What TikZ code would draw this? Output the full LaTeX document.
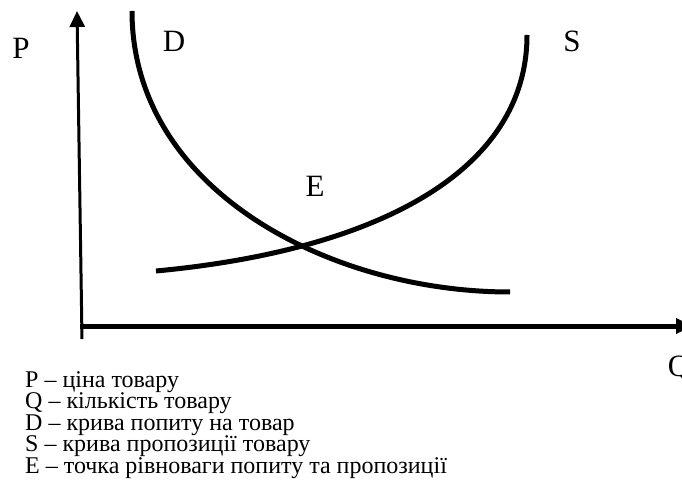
\documentclass[tikz,border=0pt]{standalone}
\usepackage{fontspec}
\setmainfont{Liberation Serif}
\usetikzlibrary{arrows.meta}
\begin{document}
\begin{tikzpicture}[x=1pt,y=-1pt,line join=round,>={Triangle[length=16pt,width=15pt]},
  axlabel/.style={font=\fontsize{31}{36}\selectfont,inner sep=0pt,anchor=base},
  legend/.style={font=\fontsize{24}{21.5}\selectfont,inner sep=0pt,align=left,anchor=base west}]
  \useasboundingbox (0,0) rectangle (682,502);
  % axes
  \draw[line width=3pt,->] (82,339) -- (77,11);
  \draw[line width=5pt,->] (80,326) -- (692,326);
  % demand and supply
  \draw[line width=5pt] (132,11) .. controls (132,190) and (330,292) .. (510,292);
  \draw[line width=5pt] (156,271) .. controls (380,250) and (527,170) .. (527,35);
  \node[axlabel] (p) at (21,59) {P};
  \node[axlabel] (d) at (174,52) {D};
  \node[axlabel] (s) at (572,52) {S};
  \node[axlabel] (e) at (315,197) {E};
  \node[axlabel] (q) at (679,376) {Q};
  % legend (base = last line)
  \node[legend] (key) at (25,473) {P – ціна товару\\
    Q – кількість товару\\
    D – крива попиту на товар\\
    S – крива пропозиції товару\\
    E – точка рівноваги попиту та пропозиції};
\end{tikzpicture}
\end{document}
